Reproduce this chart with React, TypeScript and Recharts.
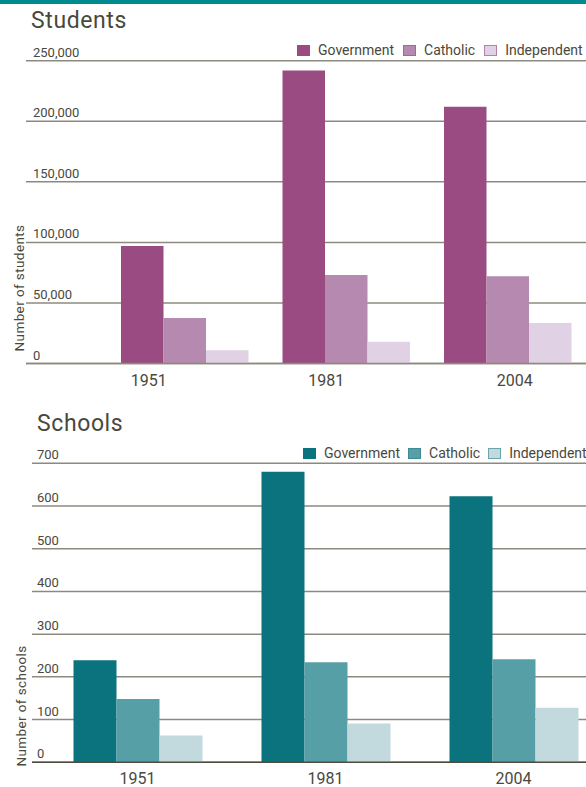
import { BarChart, Bar, XAxis, YAxis, CartesianGrid } from 'recharts';

const years = ['1951', '1981', '2004'];
const seriesNames = ['Government', 'Catholic', 'Independent'];

const studentsGovernment = [97000, 242000, 212000];
const studentsCatholic = [37500, 73000, 72000];
const studentsIndependent = [11000, 18000, 33500];
const studentTicks = [0, 50000, 100000, 150000, 200000, 250000];

const schoolsGovernment = [239, 680, 623];
const schoolsCatholic = [148, 234, 241];
const schoolsIndependent = [63, 91, 128];
const schoolTicks = [0, 100, 200, 300, 400, 500, 600, 700];

const ink = '#4a483c';
const gridInk = '#8c8a7e';
const font = 'Roboto, "Noto Sans", sans-serif';

const purples = ['#9a4c82', '#b589b0', '#e1d1e4'];
const purpleEdges = ['#9a4c82', '#a06a98', '#b680ad'];
const teals = ['#0a737e', '#579fa6', '#c2d9de'];
const tealEdges = ['#0a737e', '#3f8a92', '#6aa5ac'];

// the report sets the student year labels a little off the bar groups
const studentLabelNudge = [-36, -20, 7];

const studentRows = years.map((year, i) => ({
  year,
  government: studentsGovernment[i],
  catholic: studentsCatholic[i],
  independent: studentsIndependent[i],
}));

const schoolRows = years.map((year, i) => ({
  year,
  government: schoolsGovernment[i],
  catholic: schoolsCatholic[i],
  independent: schoolsIndependent[i],
}));

const keys = ['government', 'catholic', 'independent'];

function YTick({ y, payload, left, fmt }: any) {
  return (
    <text x={left} y={y - 4} fill={ink} fontSize={13} fontFamily={font}>
      {fmt(payload.value)}
    </text>
  );
}

function XTick({ x, y, payload, index, nudge }: any) {
  const dx = nudge ? nudge[index] : 0;
  return (
    <text x={x + dx} y={y + 14} fill={ink} fontSize={16} fontFamily={font} textAnchor="middle">
      {payload.value}
    </text>
  );
}

function AxisTitle({ cx, cy, text }: any) {
  return (
    <text
      x={cx}
      y={cy}
      transform={`rotate(-90 ${cx} ${cy})`}
      textAnchor="middle"
      fill={ink}
      fontSize={13.5}
      fontFamily={font}
      letterSpacing={0.4}
    >
      {text}
    </text>
  );
}

function Key({ left, top, fills, edges, gaps }: any) {
  return (
    <div
      style={{
        position: 'absolute',
        left,
        top,
        display: 'flex',
        alignItems: 'center',
        fontFamily: font,
        fontSize: 14,
        color: ink,
        whiteSpace: 'nowrap',
      }}
    >
      {seriesNames.map((name, i) => (
        <div key={name} style={{ display: 'flex', alignItems: 'center', marginRight: gaps }}>
          <div
            style={{
              width: 11,
              height: 9,
              background: fills[i],
              border: `1px solid ${edges[i]}`,
              marginRight: 8,
            }}
          />
          <span>{name}</span>
        </div>
      ))}
    </div>
  );
}

function Title({ left, top, text }: any) {
  return (
    <div
      style={{
        position: 'absolute',
        left,
        top,
        fontFamily: font,
        fontSize: 23,
        color: ink,
        letterSpacing: 0.6,
        lineHeight: 1,
      }}
    >
      {text}
    </div>
  );
}

export default function App() {
  return (
    <div style={{ position: 'relative', width: 586, height: 787, overflow: 'hidden', background: '#fff' }}>
      <style>{'body{margin:0}'}</style>
      <div style={{ position: 'absolute', left: 0, top: 0, width: 586, height: 4, background: '#018a8f' }} />

      <Title left={31} top={9} text="Students" />
      <Key left={297} top={42} fills={purples} edges={purpleEdges} gaps={9} />
      <div style={{ position: 'absolute', left: 0, top: 0 }}>
        <BarChart
          width={590}
          height={400}
          data={studentRows}
          margin={{ top: 60.7, right: 1.5, bottom: 16.5, left: 6 }}
          barSize={42.5}
          barGap={0}
        >
          <CartesianGrid horizontal vertical={false} stroke={gridInk} strokeWidth={1.5} />
          <XAxis
            dataKey="year"
            height={20}
            padding={{ left: 78, right: 0 }}
            tickLine={false}
            axisLine={{ stroke: gridInk, strokeWidth: 1.5 }}
            tick={<XTick nudge={studentLabelNudge} />}
            interval={0}
          />
          <YAxis
            width={20}
            domain={[0, 250000]}
            ticks={studentTicks}
            interval={0}
            tickLine={false}
            axisLine={false}
            tick={<YTick left={33} fmt={(v: number) => v.toLocaleString('en-US')} />}
            label={<AxisTitle cx={24} cy={288} text="Number of students" />}
          />
          {keys.map((k, i) => (
            <Bar key={k} dataKey={k} name={seriesNames[i]} fill={purples[i]} isAnimationActive={false} />
          ))}
        </BarChart>
      </div>

      <Title left={37} top={412} text="Schools" />
      <Key left={303} top={445} fills={teals} edges={tealEdges} gaps={8} />
      <div style={{ position: 'absolute', left: 0, top: 400 }}>
        <BarChart
          width={610}
          height={387}
          data={schoolRows}
          margin={{ top: 63.3, right: 2.5, bottom: 4.7, left: 12 }}
          barSize={43}
          barGap={0}
        >
          <CartesianGrid horizontal vertical={false} stroke={gridInk} strokeWidth={1.5} />
          <XAxis
            dataKey="year"
            height={20}
            padding={{ left: 11.5, right: 0 }}
            tickLine={false}
            axisLine={{ stroke: '#4f4c40', strokeWidth: 1.5 }}
            tick={<XTick />}
            interval={0}
          />
          <YAxis
            width={20}
            domain={[0, 700]}
            ticks={schoolTicks}
            interval={0}
            tickLine={false}
            axisLine={false}
            tick={<YTick left={37} fmt={(v: number) => String(v)} />}
            label={<AxisTitle cx={26} cy={306} text="Number of schools" />}
          />
          {keys.map((k, i) => (
            <Bar key={k} dataKey={k} name={seriesNames[i]} fill={teals[i]} isAnimationActive={false} />
          ))}
        </BarChart>
      </div>
    </div>
  );
}
